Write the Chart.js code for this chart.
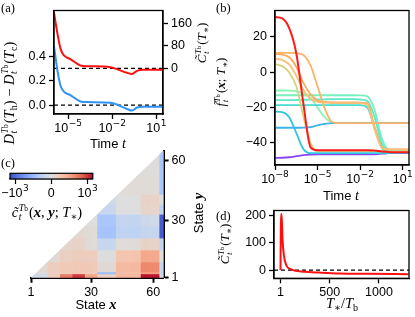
<!DOCTYPE html>
<html><head><meta charset="utf-8">
<script src="https://cdn.jsdelivr.net/npm/chart.js@4.4.1/dist/chart.umd.min.js"></script>
<style>
html,body{margin:0;padding:0;background:#fff;}
#wrap{position:relative;width:415px;height:317px;overflow:hidden;background:#fff;}
canvas{position:absolute;}
.lbl{position:absolute;white-space:nowrap;color:#000;line-height:1;}
.c{transform:translate(-50%,-50%);}
.r{transform:translate(-50%,-50%) rotate(-90deg);}
.m{font-family:'Liberation Serif','DejaVu Serif',serif;font-size:14.5px;}
.m13{font-size:13px;}
.s{font-family:'Liberation Sans',Arial,sans-serif;font-size:13px;}
.pl{font-family:'Liberation Serif','DejaVu Serif',serif;font-size:12.5px;}
.ss{display:inline-flex;flex-direction:column;font-size:0.68em;line-height:0.9;vertical-align:0.6em;margin:0 1px 0 0.5px;}
.ss .bs{font-size:0.75em;}
.sb{font-size:0.7em;vertical-align:-0.3em;line-height:0;}
</style></head>
<body><div id="wrap">
<canvas id="ca" width="215" height="160" style="left:0;top:0"></canvas>
<canvas id="cb" width="210" height="200" style="left:205px;top:0"></canvas>
<canvas id="cc" width="215" height="177" style="left:0;top:140px"></canvas>
<canvas id="cbar" width="110" height="40" style="left:0;top:165px"></canvas>
<canvas id="cd" width="210" height="117" style="left:205px;top:200px"></canvas>

<div class="lbl pl" style="left:1px;top:2px">(a)</div>
<div class="lbl pl" style="left:216px;top:2px">(b)</div>
<div class="lbl pl" style="left:1px;top:157px">(c)</div>
<div class="lbl pl" style="left:216px;top:210px">(d)</div>

<div class="lbl r m" style="left:10px;top:93px"><i>D</i><span class="ss"><span><i>T</i><span class="bs">b</span></span><span><i>t</i></span></span>(<i>T</i><span class="sb">h</span>) − <i>D</i><span class="ss"><span><i>T</i><span class="bs">b</span></span><span><i>t</i></span></span>(<i>T</i><span class="sb">c</span>)</div>
<div class="lbl r m m13" style="left:203px;top:43px"><i>C̃</i><span class="ss"><span><i>T</i><span class="bs">b</span></span><span><i>t</i></span></span>(<i>T</i><span class="sb">∗</span>)</div>
<div class="lbl c" style="left:108px;top:143px"><span class="s">Time </span><span class="m"><i>t</i></span></div>

<div class="lbl r m m13" style="left:222px;top:82px"><i>f̃</i><span class="ss"><span><i>T</i><span class="bs">b</span></span><span><i>t</i></span></span>(<b><i>x</i></b>; <i>T</i><span class="sb">∗</span>)</div>
<div class="lbl c" style="left:341px;top:195px"><span class="s">Time </span><span class="m"><i>t</i></span></div>

<div class="lbl c m" style="left:47px;top:213px"><i>c̃</i><span class="ss"><span><i>T</i><span class="bs">b</span></span><span><i>t</i></span></span>(<b><i>x</i></b>, <b><i>y</i></b>; <i>T</i><span class="sb">∗</span>)</div>
<div class="lbl c" style="left:96px;top:304px"><span class="s">State </span><span class="m"><b><i>x</i></b></span></div>
<div class="lbl r" style="left:198px;top:213px"><span class="s">State </span><span class="m"><b><i>y</i></b></span></div>

<div class="lbl r m m13" style="left:226px;top:244px"><i>C̃</i><span class="ss"><span><i>T</i><span class="bs">b</span></span><span><i>t</i></span></span>(<i>T</i><span class="sb">∗</span>)</div>
<div class="lbl c m" style="left:342px;top:303px"><i>T</i><span class="sb">∗</span>/<i>T</i><span class="sb">b</span></div>
</div>
<script>
// ---------------- DATA ----------------
// Panel (a)
const aTime  = [1.1e-6, 1.9e-6, 3.1e-6, 5.2e-6, 1.5e-5, 6.9e-5, 2.0e-4, 7.4e-3, 2.1e-2, 0.10, 0.22, 0.48, 1.3, 28];
const aDiffD = [0.483, 0.28, 0.156, 0.11, 0.08, 0.03, 0.025, 0.02, 0.005, -0.032, -0.045, -0.02, -0.013, -0.013];
const aCorr  = [198, 122, 68, 46, 32, 10, 7.6, 4, -3, -16, -20, -9, -5.5, -5.5];
const aXRange = [1.1e-6, 28];
const aLeftRange = [-0.073, 0.775];
const aRightRange = [-162, 205];
const aXTicks = [1e-5, 1e-2, 10];
const aLeftTicks = [0, 0.2, 0.4];
const aRightTicks = [0, 80, 160];

// Panel (b)
const bTime = [1e-8, 3.2e-8, 1e-7, 3.2e-7, 1e-6, 3.2e-6, 1e-5, 3.2e-5, 1e-4, 3.2e-4, 1e-3, 3.2e-3, 1e-2, 3.2e-2, 0.1, 0.32, 1, 3.2, 10, 28];
const fRed     = [31.2, 30.5, 25, 10.5, -17.8, -42.5, -44.2, -44.2, -44.2, -44.2, -44.2, -44.2, -44.2, -44.2, -44.3, -44.8, -45.2, -45.3, -45.3, -45.3];
const fOrangeA = [11, 11, 11, 10.8, 9.8, 3.8, -8, -20.5, -28, -28.8, -28.8, -28.8, -28.8, -28.8, -28.8, -28.8, -28.8, -28.8, -28.8, -28.8];
const fOrangeB = [10.3, 10, 8.5, 3, -6, -12.5, -16, -16.8, -17, -17, -17, -17, -17.2, -17.5, -30.5, -42, -43.6, -43.6, -43.6, -43.6];
const fOrangeC = [7.7, 7, 4.5, -2, -10, -15, -16.8, -17.2, -17.4, -17.4, -17.4, -17.4, -17.5, -18.5, -32, -42.5, -43.8, -43.8, -43.8, -43.8];
const fYellowD = [4.7, 3.5, 0, -8, -25, -40, -44.6, -44.6, -44.6, -44.6, -44.6, -44.6, -44.6, -44.6, -44.6, -44.6, -45, -45.2, -45.2, -45.2];
const fGreenE  = [-10.3, -10.3, -10.4, -10.8, -12, -14.5, -20, -25.5, -28.3, -28.8, -28.8, -28.8, -28.8, -28.8, -28.8, -28.8, -28.8, -28.8, -28.8, -28.8];
const fGreenF  = [-13, -13, -13, -13, -13, -13, -13, -13, -13, -13, -13, -13, -13.1, -13.6, -21, -37, -44, -44.8, -44.8, -44.8];
const fTealG   = [-15.8, -15.8, -15.8, -15.7, -15.6, -15.5, -15.4, -15.3, -15.2, -15.2, -15.2, -15.2, -15.4, -16.2, -25, -40, -44.5, -44.9, -44.9, -44.9];
const fTealH   = [-18.6, -18.6, -18.6, -18.6, -18.6, -18.6, -18.6, -18.6, -18.6, -18.6, -18.6, -18.6, -18.6, -20, -31, -42.5, -44.9, -45, -45, -45];
const fCyanJ   = [-22.3, -22.6, -25.5, -34.5, -43.5, -45.8, -45.8, -45.8, -45.8, -45.8, -45.8, -45.8, -45.8, -45.8, -45.8, -45.8, -45.7, -45.6, -45.5, -45.5];
const fBlueK   = [-31.4, -31.4, -31.4, -31.4, -31.3, -31, -30, -29.2, -28.8, -28.8, -28.8, -28.8, -28.8, -28.8, -28.8, -28.8, -28.8, -28.8, -28.8, -28.8];
const fPurpleL = [-48.5, -48.4, -48.1, -47.5, -46.9, -46.6, -46.5, -46.5, -46.5, -46.5, -46.5, -46.5, -46.5, -46.5, -46.4, -46.1, -45.8, -45.6, -45.6, -45.6];
const bXRange = [1e-8, 27.5];
const bYRange = [-52.5, 35];
const bXTicks = [1e-8, 1e-5, 1e-2, 10];
const bYTicks = [-40, -20, 0, 20];

// Panel (c) heatmap blocks (states), values bottom row first
const hmStates = 64;
const hmXEdges = [1, 9, 15, 21, 27, 33, 42, 48, 54, 58, 63, 65];
const hmYEdges = [1, 3, 4, 9, 15, 21, 27, 33, 38, 43, 53, 65];
const hmValues = [
  [-0.9, 3, 150, 800, 30, 2, 12, 12, 1900, 1900, -1],
  [0, 2, 3, 4, 3, -25, 8, 8, 40, 40, -3],
  [0.5, 2.5, 4, 4, 3.5, 0.5, 11, 11, 90, 90, -2],
  [0, 0.5, 2, 2.5, 2.5, 0, 6, 6, 25, 25, 0],
  [0, 0, 1, 1.5, 0.3, -2, 0.2, 0.2, 1.5, 1.5, -3],
  [0, 0, 0, 0.5, 0.3, -15, -3.8, -3.8, -2.5, -2.5, -1400],
  [0, 0, 0, 0, 0, -12, -3, -3, -1.5, -1, -1400],
  [0, 0, 0, 0, 0, -2, 0, 0, 1.2, 1.2, -4],
  [0, 0, 0, 0, 0, -1, 0, 0, 1.5, 1.5, 0],
  [0, 0, 0, 0, 0, 0, 0.3, 0.3, 0.3, 0.3, -13],
  [0, 0, 0, 0, 0, 0, 0, 0, 0.2, 0.2, -13]
];
const hmRange = [1, 65];
const hmTicks = [1, 30, 60];
const cbTicks = [-1000, 0, 1000];
const cbLinThresh = 1, cbVmax = 2600;

// Panel (d)
const dRatio = [1, 4, 8, 12, 21, 35, 59, 110, 245, 400, 600, 900, 1300];
const dCorr  = [0, 150, 205, 205, 115, 55, 18, 2.4, -6, -9, -12, -13.5, -15];
const dXRange = [-65, 1305];
const dYRange = [-30, 218];
const dXTicks = [1, 500, 1000];
const dYTicks = [0, 100, 200];

// ---------------- HELPERS ----------------
Chart.defaults.font.family = "'Liberation Sans', Arial, sans-serif";
Chart.defaults.font.size = 12.5;
Chart.defaults.color = '#000';
Chart.defaults.animation = false;
const TL = 5;
const MINUS = '\u2212';
const fmtNum = (d) => (v) => (v < 0 ? MINUS : '') + Math.abs(v).toFixed(d);

function axis(kind, size, pos, range, ticks, fmt, lw, type) {
  return {
    type: type || 'linear', position: pos, min: range[0], max: range[1],
    afterFit: s => { if (kind === 'v') s.width = size; else s.height = size; },
    afterBuildTicks: s => { s.ticks = ticks.map(v => ({value: v})); },
    grid: {drawOnChartArea: false, drawTicks: true, tickLength: TL, tickWidth: lw || 1.3, tickColor: '#000'},
    border: {display: true, color: '#000', width: lw || 1.3},
    ticks: {color: '#000', padding: kind === 'v' ? 3 : 2, autoSkip: false, maxRotation: 0, callback: fmt, font: {size: 12.5}}
  };
}
const frame = {id: 'frame', afterDraw(chart) {
  const {ctx, chartArea: c} = chart; ctx.save(); ctx.strokeStyle = '#000'; ctx.lineWidth = 1.3;
  ctx.strokeRect(c.left, c.top, c.right - c.left, c.bottom - c.top); ctx.restore(); }};
function powLabels(scaleId, split) {
  return {id: 'pow_' + scaleId, afterDraw(chart) {
    const s = chart.scales[scaleId], ctx = chart.ctx;
    ctx.save(); ctx.fillStyle = '#000'; ctx.textBaseline = 'alphabetic'; ctx.textAlign = 'left';
    s.ticks.forEach(t => {
      const [b, sp] = split(t.value);
      ctx.font = "12.5px 'Liberation Sans'"; const wb = ctx.measureText(b).width;
      ctx.font = "9px 'DejaVu Sans'"; const ws = sp ? ctx.measureText(sp).width + 0.5 : 0;
      const x0 = s.getPixelForValue(t.value) - (wb + ws) / 2;
      const yb = s.top + TL + 12.5;
      ctx.font = "12.5px 'Liberation Sans'"; ctx.fillText(b, x0, yb);
      if (sp) { ctx.font = "9px 'DejaVu Sans'"; ctx.fillText(sp, x0 + wb + 0.5, yb - 6); }
    });
    ctx.restore(); }};
}
const logSplit = v => { const e = Math.round(Math.log10(v)); return ['10', (e < 0 ? MINUS : '') + Math.abs(e)]; };
const pts = (xs, ys) => xs.map((x, i) => ({x, y: ys[i]}));
function line(data, color, w, yId, dash) {
  return {data, borderColor: color, borderWidth: w, pointRadius: 0, fill: false,
    cubicInterpolationMode: 'monotone', yAxisID: yId || 'y', borderDash: dash || [], borderCapStyle: 'butt'};
}
const base = {responsive: false, devicePixelRatio: 1, animation: false, events: [],
  plugins: {legend: {display: false}, tooltip: {enabled: false}}};

// ---------------- PANEL (a) ----------------
new Chart(document.getElementById('ca'), {
  type: 'line',
  data: {datasets: [
    line(pts(aTime, aDiffD), '#2f93f7', 2, 'y'),
    line(pts(aTime, aCorr), '#ff1010', 2, 'y2'),
    line(pts(aXRange, [0, 0]), '#000', 1.3, 'y', [4, 3]),
    line(pts(aXRange, [0, 0]), '#000', 1.3, 'y2', [4, 3])
  ]},
  options: Object.assign({}, base, {
    layout: {autoPadding: false, padding: {top: 1, left: 0, right: 0, bottom: 0}},
    scales: {
      x: axis('h', 46, 'bottom', aXRange, aXTicks, () => '', 1.3, 'logarithmic'),
      y: axis('v', 54, 'left', aLeftRange, aLeftTicks, fmtNum(1)),
      y2: axis('v', 52, 'right', aRightRange, aRightTicks, fmtNum(0))
    }
  }),
  plugins: [frame, powLabels('x', logSplit)]
});

// ---------------- PANEL (b) ----------------
const bSeries = [
  [fRed, '#ff1a1a', 2], [fYellowD, '#d2d47c', 1.8], [fOrangeC, '#f7bf78', 1.8], [fOrangeB, '#fbab60', 1.8],
  [fOrangeA, '#fdb468', 1.8], [fCyanJ, '#30c6e0', 1.8], [fBlueK, '#40b2ea', 1.8],
  [fTealH, '#46dcd2', 1.8], [fTealG, '#5ee8c6', 1.8], [fGreenF, '#76f0bc', 1.8], [fGreenE, '#88f5b2', 1.8],
  [fPurpleL, '#8a44f0', 1.8]
];
new Chart(document.getElementById('cb'), {
  type: 'line',
  data: {datasets: bSeries.map(([ys, c, w]) => line(pts(bTime, ys), c, w, 'y'))},
  options: Object.assign({}, base, {
    layout: {autoPadding: false, padding: {top: 2, left: 0, right: 6, bottom: 0}},
    scales: {
      x: axis('h', 35, 'bottom', bXRange, bXTicks, () => '', 1.3, 'logarithmic'),
      y: axis('v', 70, 'left', bYRange, bYTicks, fmtNum(0))
    }
  }),
  plugins: [frame, powLabels('x', logSplit)]
});

// ---------------- PANEL (c) ----------------
const CW = [[58,76,193],[98,130,234],[141,176,254],[184,208,249],[221,221,221],[245,196,173],[244,154,123],[222,96,77],[180,4,38]];
function coolwarm(t) {
  t = Math.max(0, Math.min(1, t)); const p = t * 8; const i = Math.min(7, Math.floor(p)); const f = p - i;
  const a = CW[i], b = CW[i + 1];
  return 'rgb(' + a.map((v, k) => Math.round(v + (b[k] - v) * f)).join(',') + ')';
}
const symlog = v => Math.sign(v) * Math.log10(1 + Math.abs(v) / cbLinThresh);
const SMAX = symlog(cbVmax);
const norm = v => 0.5 + 0.5 * symlog(v) / SMAX;
function blockValue(sx, sy) {
  let ci = 0, ri = 0;
  while (ci < hmXEdges.length - 2 && sx >= hmXEdges[ci + 1]) ci++;
  while (ri < hmYEdges.length - 2 && sy >= hmYEdges[ri + 1]) ri++;
  return hmValues[ri][ci];
}
const heat = {id: 'heat', beforeDatasetsDraw(chart) {
  const {ctx} = chart, x = chart.scales.x, y = chart.scales.y;
  ctx.save();
  ctx.beginPath();
  ctx.moveTo(x.getPixelForValue(hmRange[0]), y.getPixelForValue(hmRange[0]));
  ctx.lineTo(x.getPixelForValue(hmRange[1]), y.getPixelForValue(hmRange[0]));
  ctx.lineTo(x.getPixelForValue(hmRange[1]), y.getPixelForValue(hmRange[1]));
  ctx.closePath(); ctx.clip();
  for (let i = 1; i <= hmStates; i++) for (let j = 1; j <= hmStates; j++) {
    if (j > i + 1) continue;
    ctx.fillStyle = coolwarm(norm(blockValue(i + 0.5, j + 0.5)));
    const x0 = x.getPixelForValue(i), x1 = x.getPixelForValue(i + 1);
    const y0 = y.getPixelForValue(j), y1 = y.getPixelForValue(j + 1);
    ctx.fillRect(x0, y1, x1 - x0 + 0.5, y0 - y1 + 0.5);
  }
  ctx.restore();
}};
new Chart(document.getElementById('cc'), {
  type: 'scatter',
  data: {datasets: []},
  options: Object.assign({}, base, {
    layout: {autoPadding: false, padding: {top: 5, left: 31, right: 0, bottom: 0}},
    scales: {
      x: axis('h', 39.3, 'bottom', hmRange, hmTicks, v => String(v), 2),
      y: axis('v', 51.4, 'right', hmRange, hmTicks, v => String(v), 2)
    }
  }),
  plugins: [heat]
});
// colorbar
const cbGrad = {id: 'cbGrad', beforeDatasetsDraw(chart) {
  const {ctx, chartArea: c} = chart, x = chart.scales.x;
  ctx.save();
  const n = 120;
  for (let k = 0; k < n; k++) {
    const s0 = -SMAX + 2 * SMAX * k / n, s1 = -SMAX + 2 * SMAX * (k + 1) / n;
    ctx.fillStyle = coolwarm(0.5 + 0.5 * ((s0 + s1) / 2) / SMAX);
    const p0 = x.getPixelForValue(s0), p1 = x.getPixelForValue(s1);
    ctx.fillRect(p0, c.top, p1 - p0 + 0.5, c.bottom - c.top);
  }
  ctx.strokeStyle = '#000'; ctx.lineWidth = 1.2;
  ctx.strokeRect(c.left, c.top, c.right - c.left, c.bottom - c.top);
  ctx.restore();
}};
new Chart(document.getElementById('cbar'), {
  type: 'scatter',
  data: {datasets: []},
  options: Object.assign({}, base, {
    layout: {autoPadding: false, padding: {top: 8.3, left: 10, right: 17.3, bottom: 0}},
    scales: {
      x: axis('h', 26, 'bottom', [-SMAX, SMAX], cbTicks.map(symlog), () => '', 1.2),
      y: {display: false, min: 0, max: 1}
    }
  }),
  plugins: [cbGrad, powLabels('x', s => {
    if (Math.abs(s) < 1e-9) return ['0', ''];
    const v = Math.sign(s) * (Math.pow(10, Math.abs(s)) - 1) * cbLinThresh;
    const e = Math.round(Math.log10(Math.abs(v)));
    return [(v < 0 ? MINUS : '') + '10', String(e)];
  })]
});

// ---------------- PANEL (d) ----------------
new Chart(document.getElementById('cd'), {
  type: 'line',
  data: {datasets: [
    line(pts(dRatio, dCorr), '#ff1010', 2, 'y'),
    line(pts(dXRange, [0, 0]), '#000', 1.3, 'y', [4, 3])
  ]},
  options: Object.assign({}, base, {
    layout: {autoPadding: false, padding: {top: 10, left: 0, right: 6, bottom: 0}},
    scales: {
      x: axis('h', 38.7, 'bottom', dXRange, dXTicks, v => String(v)),
      y: axis('v', 69, 'left', dYRange, dYTicks, fmtNum(0))
    }
  }),
  plugins: [frame]
});
</script>
</body></html>
